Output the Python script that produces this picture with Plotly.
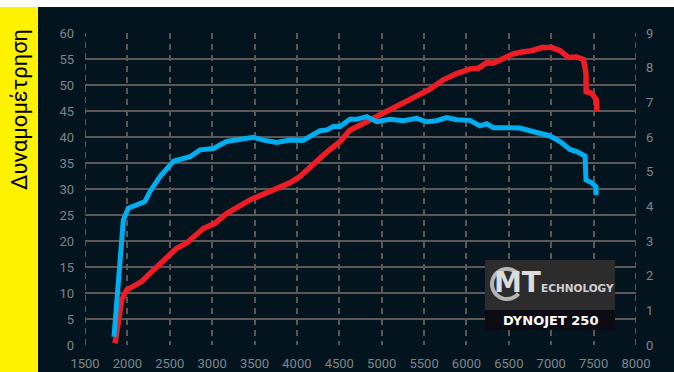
import math
import plotly.graph_objects as go

# Dyno run: power (left scale, 0-60) and torque (right scale, 0-9) against engine rpm
power_rpm = [1854, 1893, 1933, 1992, 2169, 2306, 2464, 2582, 2700, 2896, 3034, 3171,
             3447, 3721, 3918, 4036, 4154, 4272, 4390, 4508, 4626, 4783, 4901, 5098,
             5255, 5413, 5570, 5727, 5885, 6042, 6140, 6239, 6317, 6435, 6553, 6671,
             6770, 6888, 7006, 7104, 7202, 7301, 7380, 7410, 7412, 7478, 7536, 7538]
power_hp = [0.3, 4.2, 8.7, 10.6, 12.2, 14.4, 17.0, 18.6, 19.6, 22.4, 23.4, 25.3,
            27.9, 29.8, 31.2, 32.4, 34.0, 35.9, 37.6, 39.1, 41.3, 42.6, 43.6, 45.3,
            46.6, 48.1, 49.2, 51.0, 52.2, 53.1, 53.2, 54.3, 54.2, 55.1, 56.0, 56.4,
            56.6, 57.2, 57.2, 56.6, 55.3, 55.4, 54.9, 52.2, 48.7, 48.4, 47.1, 44.9]

torque_rpm = [1842, 1913, 1952, 2011, 2149, 2208, 2267, 2385, 2542, 2739, 2857, 3014,
              3171, 3486, 3604, 3761, 3918, 4075, 4154, 4272, 4351, 4430, 4508, 4626,
              4705, 4823, 4941, 5098, 5255, 5413, 5531, 5649, 5767, 5885, 6042, 6160,
              6239, 6317, 6514, 6632, 6750, 6868, 6986, 7104, 7222, 7301, 7399, 7410,
              7478, 7528, 7530]
torque_kgm = [0.24, 2.66, 3.60, 3.95, 4.08, 4.14, 4.43, 4.86, 5.30, 5.43, 5.63, 5.67,
              5.87, 5.99, 5.91, 5.84, 5.91, 5.90, 6.02, 6.18, 6.20, 6.30, 6.30, 6.51,
              6.51, 6.59, 6.44, 6.51, 6.47, 6.54, 6.44, 6.47, 6.56, 6.50, 6.48, 6.32,
              6.38, 6.27, 6.27, 6.26, 6.18, 6.11, 6.03, 5.87, 5.64, 5.58, 5.45, 4.76,
              4.68, 4.56, 4.32]

rpm_ticks = list(range(1500, 8001, 500))
left_ticks = list(range(0, 61, 5))
right_ticks = list(range(0, 10))

BG = "#03141e"
GRID = "#5c5757"
TICK = "#7c868d"
RED = "#ee1c25"
BLUE = "#00aeef"

fig = go.Figure()
fig.add_trace(go.Scatter(x=torque_rpm, y=torque_kgm, yaxis="y2", mode="lines",
                         line=dict(color=BLUE, width=5), hoverinfo="skip"))
fig.add_trace(go.Scatter(x=power_rpm, y=power_hp, mode="lines",
                         line=dict(color=RED, width=5.5), hoverinfo="skip"))

font_ticks = dict(family="Roboto", size=13, color=TICK)

fig.update_layout(
    width=674, height=372,
    margin=dict(l=85, r=38, t=33, b=27, autoexpand=False),
    paper_bgcolor=BG, plot_bgcolor=BG,
    showlegend=False,
    xaxis=dict(range=[1500, 8000], tickvals=rpm_ticks, showgrid=True,
               gridcolor=GRID, gridwidth=2, griddash="6px,5px",
               zeroline=False, showline=False, ticks="", tickfont=font_ticks,
               ticklabelstandoff=9, automargin=False),
    yaxis=dict(range=[0, 60], tickvals=left_ticks, showgrid=True,
               gridcolor=GRID, gridwidth=2, zeroline=False, showline=False,
               ticks="", tickfont=font_ticks, ticklabelstandoff=10, automargin=False),
    yaxis2=dict(range=[0, 9], tickvals=right_ticks, overlaying="y", side="right",
                showgrid=False, zeroline=False, showline=False, ticks="",
                tickfont=font_ticks, ticklabelstandoff=9, automargin=False),
)

px_w, px_h = 551, 312  # plot area size in pixels


def px_x(x):
    return (x - 85) / px_w


def px_y(y):
    return (345 - y) / px_h


# open ring of the badge logo, drawn as a polyline in paper coordinates
ring_pts = []
for i in range(41):
    a = math.radians(40 + i * (280 / 40))
    ring_pts.append((px_x(507 + 15 * math.cos(a)), px_y(284 - 15 * math.sin(a))))
ring_path = "M " + " L ".join(f"{x:.5f},{y:.5f}" for x, y in ring_pts)

shapes = [
    # white strip along the top edge
    dict(type="rect", xref="paper", yref="paper", x0=px_x(-5), x1=px_x(680),
         y0=px_y(7), y1=px_y(-5), fillcolor="white", line_width=0, layer="below"),
    # yellow title band on the left
    dict(type="rect", xref="paper", yref="paper", x0=px_x(-5), x1=px_x(38),
         y0=px_y(380), y1=px_y(7), fillcolor="#fff200", line_width=0, layer="below"),
    # dashed borders at both ends of the rpm range
    dict(type="line", xref="x", yref="y", x0=1500, x1=1500, y0=0, y1=60,
         line=dict(color=GRID, width=2, dash="6px,5px"), layer="below"),
    dict(type="line", xref="x", yref="y", x0=8000, x1=8000, y0=0, y1=60,
         line=dict(color=GRID, width=2, dash="6px,5px"), layer="below"),
    # badge panels
    dict(type="rect", xref="paper", yref="paper", x0=px_x(485), x1=px_x(615),
         y0=px_y(310), y1=px_y(260), fillcolor="#2c2c2c", line_width=0, layer="above"),
    dict(type="rect", xref="paper", yref="paper", x0=px_x(485), x1=px_x(615),
         y0=px_y(330), y1=px_y(310), fillcolor="#0c0a13", line_width=0, layer="above"),
    dict(type="path", xref="paper", yref="paper", path=ring_path,
         line=dict(color="#b4b4b4", width=4), layer="above"),
]
fig.update_layout(shapes=shapes)

annotations = [
    dict(text="Δυναμομέτρηση", xref="paper", yref="paper", x=px_x(19), y=px_y(110),
         textangle=-90, showarrow=False, xanchor="center", yanchor="middle",
         font=dict(family="Roboto", size=22, color="#000000")),
    dict(text="<b>MT</b>", xref="paper", yref="paper", x=px_x(542), y=px_y(282),
         showarrow=False, xanchor="right", yanchor="middle", borderpad=0,
         font=dict(family="DejaVu Sans", size=28, color="#dcdcdc")),
    dict(text="<b>ECHNOLOGY</b>", xref="paper", yref="paper", x=px_x(540), y=px_y(288),
         showarrow=False, xanchor="left", yanchor="middle", borderpad=0,
         font=dict(family="DejaVu Sans", size=10.5, color="#cfcfcf")),
    dict(text="<b>DYNOJET 250</b>", xref="paper", yref="paper", x=px_x(550), y=px_y(320),
         showarrow=False, xanchor="center", yanchor="middle",
         font=dict(family="DejaVu Sans", size=13, color="#ffffff")),
]
fig.update_layout(annotations=annotations)

fig.write_html("out.html")
